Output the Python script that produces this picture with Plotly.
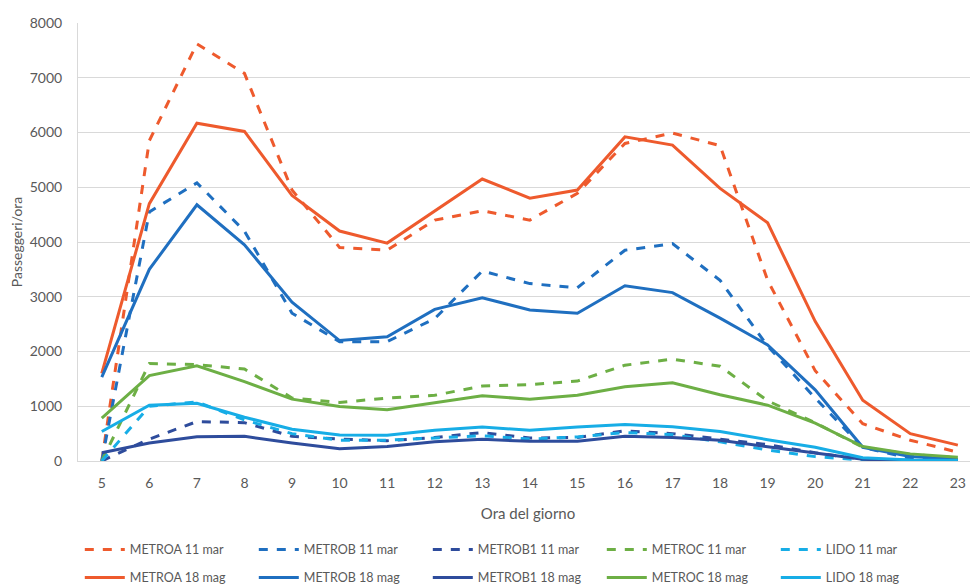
import plotly.graph_objects as go

hours = list(range(5, 24))
tick_labels = [str(h) for h in hours]

metroa_mar = [0, 5850, 7620, 7080, 4950, 3900, 3850, 4400, 4570, 4400, 4890, 5800, 5990, 5760, 3300, 1650, 680, 380, 160]
metrob_mar = [0, 4550, 5080, 4200, 2700, 2180, 2180, 2600, 3470, 3240, 3165, 3850, 3970, 3300, 2100, 1150, 250, 50, 30]
metrob1_mar = [0, 400, 720, 700, 450, 400, 370, 430, 520, 420, 430, 550, 500, 400, 300, 150, 30, 10, 10]
metroc_mar = [0, 1780, 1760, 1680, 1150, 1070, 1150, 1200, 1370, 1395, 1460, 1750, 1860, 1730, 1100, 700, 250, 120, 60]
lido_mar = [0, 1000, 1080, 750, 500, 380, 380, 420, 460, 400, 440, 520, 480, 350, 200, 80, 20, 10, 5]

metroa_mag = [1600, 4700, 6170, 6020, 4850, 4200, 3980, 4560, 5150, 4800, 4950, 5920, 5770, 4980, 4350, 2550, 1110, 500, 290]
metrob_mag = [1530, 3500, 4680, 3950, 2900, 2200, 2270, 2770, 2980, 2760, 2700, 3200, 3075, 2610, 2120, 1300, 250, 80, 30]
metrob1_mag = [150, 330, 445, 450, 330, 225, 265, 350, 395, 360, 360, 450, 430, 380, 260, 150, 30, 10, 10]
metroc_mag = [785, 1560, 1740, 1450, 1130, 995, 935, 1060, 1190, 1130, 1200, 1355, 1430, 1210, 1020, 690, 265, 130, 70]
lido_mag = [540, 1020, 1055, 800, 580, 475, 470, 560, 620, 560, 620, 665, 625, 540, 390, 250, 60, 20, 10]

c_a = "#EE5A2D"
c_b = "#1F6FC0"
c_b1 = "#2E4C9C"
c_c = "#6DAF45"
c_l = "#17ADE6"

series = [
    ("METROA 11 mar", metroa_mar, c_a, "dash", "legend"),
    ("METROB 11 mar", metrob_mar, c_b, "dash", "legend"),
    ("METROB1 11 mar", metrob1_mar, c_b1, "dash", "legend"),
    ("METROC 11 mar", metroc_mar, c_c, "dash", "legend"),
    ("LIDO 11 mar", lido_mar, c_l, "dash", "legend"),
    ("METROA 18 mag", metroa_mag, c_a, "solid", "legend2"),
    ("METROB 18 mag", metrob_mag, c_b, "solid", "legend2"),
    ("METROB1 18 mag", metrob1_mag, c_b1, "solid", "legend2"),
    ("METROC 18 mag", metroc_mag, c_c, "solid", "legend2"),
    ("LIDO 18 mag", lido_mag, c_l, "solid", "legend2"),
]

fig = go.Figure()
for name, vals, col, dash, lg in series:
    fig.add_trace(go.Scatter(x=hours, y=vals, name=name, mode="lines", legend=lg,
                             line=dict(color=col, width=3, dash=dash)))

FONT = "Lato, Liberation Sans, Arial, sans-serif"
leg_common = dict(orientation="h", xanchor="left", yanchor="middle",
                  entrywidth=119, entrywidthmode="pixels", tracegroupgap=0,
                  font=dict(family=FONT, size=12.5, color="#595959"), itemwidth=40,
                  bgcolor="rgba(0,0,0,0)")

fig.update_layout(
    width=970, height=580,
    margin=dict(l=70, r=0, t=15, b=127, autoexpand=False),
    paper_bgcolor="white", plot_bgcolor="white",
    font=dict(family=FONT, size=14, color="#595959"),
    showlegend=True,
    legend=dict(x=0.002, y=-0.203, **leg_common),
    legend2=dict(x=0.002, y=-0.267, **leg_common),
)
fig.update_xaxes(
    range=[4.5, 4.5 + 900 / 47.56],
    tickmode="array", tickvals=hours, ticktext=tick_labels,
    tickfont=dict(size=14, color="#595959"),
    showgrid=False, showline=True, linecolor="#D9D9D9", linewidth=1,
    ticks="", zeroline=False, automargin=False, ticklabelstandoff=9,
    title=dict(text="Ora del giorno", font=dict(size=15, color="#595959"), standoff=18),
)
fig.update_yaxes(
    range=[0, 8000], tickvals=list(range(0, 8001, 1000)),
    tickfont=dict(size=14, color="#595959"),
    showgrid=True, gridcolor="#D9D9D9", gridwidth=1,
    showline=True, linecolor="#D9D9D9", zeroline=False,
    ticks="", ticklabelstandoff=12, automargin=False,
    title=dict(text="Passeggeri/ora", font=dict(size=14, color="#595959"), standoff=9),
)

fig.write_html("out.html")
